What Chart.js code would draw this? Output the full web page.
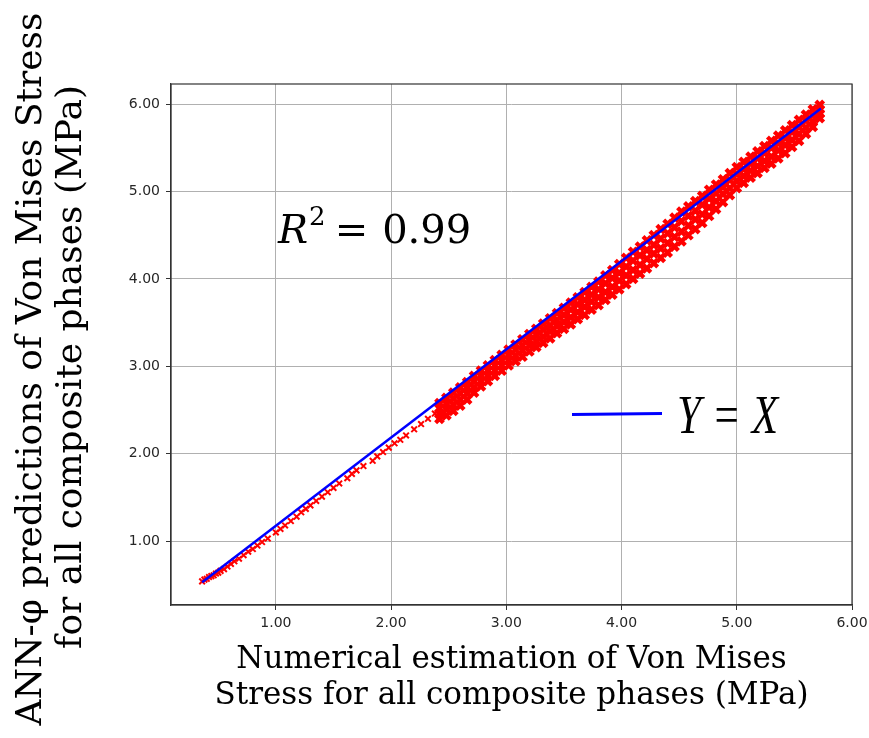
<!DOCTYPE html>
<html>
<head>
<meta charset="utf-8">
<script src="https://cdn.jsdelivr.net/npm/chart.js@4.4.1/dist/chart.umd.min.js"></script>
<style>
  html, body { margin: 0; padding: 0; background: #ffffff; }
  #wrap { width: 869px; height: 738px; position: relative; }
</style>
</head>
<body>
<div id="wrap"><canvas id="c" width="869" height="738"></canvas></div>
<script>
// ---------- data ----------
const xTickValues = [1, 2, 3, 4, 5, 6];
const yTickValues = [1, 2, 3, 4, 5, 6];

// Y = X reference line (end points as drawn)
const refLineX = [0.36, 5.73];
const refLineY = [0.53, 5.95];

// sparse low-stress predictions (x markers below the line)
const sparseX = [0.36,0.38,0.40,0.42,0.44,0.46,0.48,0.50,0.52,0.55,0.58,0.61,0.64,0.68,0.72,0.76,0.80,0.84,0.88,0.93,1.00,1.04,1.08,1.13,1.18,1.22,1.26,1.30,1.35,1.40,1.45,1.50,1.55,1.62,1.66,1.70,1.76,1.84,1.88,1.93,1.98,2.03,2.08,2.13,2.20,2.26,2.32,2.38];
const sparseY = [0.54,0.56,0.57,0.59,0.60,0.61,0.63,0.64,0.66,0.68,0.71,0.74,0.77,0.80,0.84,0.88,0.91,0.95,0.99,1.03,1.10,1.14,1.18,1.23,1.28,1.33,1.37,1.41,1.46,1.51,1.56,1.61,1.66,1.72,1.77,1.81,1.86,1.92,1.97,2.02,2.07,2.12,2.16,2.21,2.28,2.34,2.40,2.46];

// dense band of predictions (columns with four levels each)
const bandX    = [2.42,2.48,2.54,2.60,2.66,2.72,2.78,2.84,2.90,2.96,3.02,3.08,3.14,3.20,3.26,3.32,3.38,3.44,3.50,3.56,3.62,3.68,3.74,3.80,3.86,3.92,3.98,4.04,4.10,4.16,4.22,4.28,4.34,4.40,4.46,4.52,4.58,4.64,4.70,4.76,4.82,4.88,4.94,5.00,5.06,5.12,5.18,5.24,5.30,5.36,5.42,5.48,5.54,5.60,5.66,5.72];
const bandTop  = [2.58,2.64,2.70,2.76,2.82,2.89,2.95,3.01,3.07,3.13,3.19,3.25,3.31,3.37,3.43,3.49,3.55,3.61,3.67,3.73,3.79,3.85,3.91,3.97,4.04,4.10,4.17,4.24,4.31,4.37,4.44,4.50,4.57,4.63,4.70,4.77,4.83,4.89,4.95,5.02,5.08,5.14,5.21,5.28,5.34,5.40,5.46,5.52,5.58,5.64,5.70,5.76,5.82,5.88,5.94,5.99];
const bandUpper= [2.52,2.57,2.63,2.69,2.75,2.83,2.89,2.95,3.01,3.07,3.13,3.19,3.24,3.30,3.36,3.42,3.47,3.53,3.59,3.65,3.71,3.76,3.82,3.88,3.95,4.01,4.07,4.14,4.21,4.27,4.33,4.39,4.46,4.52,4.59,4.66,4.72,4.78,4.85,4.92,4.98,5.05,5.13,5.20,5.26,5.32,5.38,5.44,5.50,5.55,5.61,5.68,5.74,5.81,5.87,5.94];
const bandLower= [2.46,2.51,2.56,2.62,2.69,2.76,2.83,2.89,2.95,3.01,3.07,3.12,3.18,3.24,3.29,3.34,3.40,3.46,3.51,3.56,3.62,3.68,3.74,3.79,3.85,3.91,3.98,4.04,4.10,4.16,4.23,4.29,4.35,4.41,4.48,4.54,4.61,4.68,4.74,4.82,4.89,4.97,5.04,5.12,5.18,5.24,5.29,5.35,5.40,5.47,5.53,5.59,5.66,5.73,5.80,5.89];
const bandLow  = [2.40,2.44,2.49,2.55,2.62,2.70,2.77,2.83,2.89,2.95,3.01,3.06,3.11,3.17,3.22,3.27,3.32,3.38,3.43,3.48,3.54,3.59,3.65,3.70,3.76,3.82,3.88,3.94,4.00,4.06,4.12,4.18,4.24,4.30,4.37,4.43,4.50,4.57,4.64,4.72,4.80,4.88,4.96,5.04,5.10,5.16,5.21,5.27,5.32,5.38,5.44,5.51,5.58,5.66,5.74,5.84];

const xTitle = ['Numerical estimation of Von Mises', 'Stress for all composite phases (MPa)'];
const yTitle = ['ANN-\u03C6 predictions of Von Mises Stress', 'for all composite phases (MPa)'];
const r2Value = '0.99';
const legendLabel = 'Y = X';

// ---------- build datasets ----------
const pairs = (xs, ys) => xs.map((x, i) => ({ x: x, y: ys[i] }));
const bandPoints = [].concat(
  pairs(bandX, bandTop), pairs(bandX, bandUpper),
  pairs(bandX, bandLower), pairs(bandX, bandLow)
);

const RED = '#ff0000';
const BLUE = '#0000ff';

const annotations = {
  id: 'annotations',
  afterDraw(chart) {
    const ctx = chart.ctx;
    ctx.save();
    ctx.fillStyle = '#000';
    // Y axis title (two lines, rotated)
    ctx.font = '36px "DejaVu Serif"';
    ctx.textAlign = 'center';
    ctx.textBaseline = 'alphabetic';
    const yl = [[41, 369], [81, 367]];
    yTitle.forEach((t, i) => {
      ctx.save();
      ctx.translate(yl[i][0], yl[i][1]);
      ctx.rotate(-Math.PI / 2);
      ctx.fillText(t, 0, 0);
      ctx.restore();
    });
    // R^2 annotation
    ctx.textAlign = 'left';
    let x = 278;
    const base = 243;
    ctx.font = 'italic 40px "DejaVu Serif"';
    ctx.fillText('R', x, base);
    x += ctx.measureText('R').width + 1;
    ctx.font = '26px "DejaVu Serif"';
    ctx.fillText('2', x, base - 18);
    x += ctx.measureText('2').width + 9;
    ctx.font = '40px "DejaVu Serif"';
    ctx.fillText('=', x, base);
    x += ctx.measureText('=').width + 14;
    ctx.fillText(r2Value, x, base);
    // legend: line sample + italic label
    const ds = chart.data.datasets[0];
    ctx.strokeStyle = ds.borderColor;
    ctx.lineWidth = 3;
    ctx.beginPath();
    ctx.moveTo(572, 414.5);
    ctx.lineTo(662, 413.5);
    ctx.stroke();
    ctx.save();
    ctx.translate(677, 433);
    ctx.scale(0.8, 1);
    ctx.font = 'italic 54px "Liberation Serif"';
    ctx.fillText(legendLabel, 0, 0);
    ctx.restore();
    // frame around plot area
    const a = chart.chartArea;
    ctx.strokeStyle = '#333';
    ctx.lineWidth = 1.2;
    ctx.strokeRect(a.left, a.top, a.right - a.left, a.bottom - a.top);
    ctx.restore();
  }
};

new Chart(document.getElementById('c'), {
  type: 'scatter',
  data: {
    datasets: [
      {
        label: legendLabel,
        type: 'line',
        data: pairs(refLineX, refLineY),
        borderColor: BLUE,
        backgroundColor: BLUE,
        borderWidth: 2.5,
        pointRadius: 0,
        showLine: true,
        fill: false,
        order: 0
      },
      {
        label: 'ANN predictions (band)',
        data: bandPoints,
        pointStyle: 'crossRot',
        pointRadius: 5.5,
        borderColor: RED,
        backgroundColor: RED,
        borderWidth: 4.2,
        order: 1
      },
      {
        label: 'ANN predictions (low)',
        data: pairs(sparseX, sparseY),
        pointStyle: 'crossRot',
        pointRadius: 4,
        borderColor: RED,
        backgroundColor: RED,
        borderWidth: 2,
        order: 2
      }
    ]
  },
  options: {
    responsive: false,
    animation: false,
    devicePixelRatio: 1,
    layout: { padding: { left: 0, right: 17, top: 84, bottom: 0 } },
    plugins: { legend: { display: false }, tooltip: { enabled: false } },
    scales: {
      x: {
        type: 'linear',
        min: 0.09, max: 6.0,
        afterFit(s) { s.height = 133; s.paddingLeft = 0; s.paddingRight = 0; },
        afterBuildTicks(s) { s.ticks = xTickValues.map(v => ({ value: v })); },
        ticks: {
          includeBounds: false, stepSize: 1,
          font: { family: 'DejaVu Sans', size: 14 }, color: '#262626', padding: 5,
          callback: v => Number(v).toFixed(2), maxRotation: 0
        },
        grid: { color: '#b0b0b0', lineWidth: 1, drawTicks: true, tickLength: 5, tickColor: '#333' },
        border: { display: true, color: '#333', width: 1.2 },
        title: {
          display: true, text: xTitle, color: '#000',
          font: { family: 'DejaVu Serif', size: 31, lineHeight: 1.16 },
          padding: { top: 0, bottom: 24 }
        }
      },
      y: {
        type: 'linear',
        min: 0.27, max: 6.23,
        afterFit(s) { s.width = 171; s.paddingTop = 0; s.paddingBottom = 0; },
        afterBuildTicks(s) { s.ticks = yTickValues.map(v => ({ value: v })); },
        ticks: {
          includeBounds: false, stepSize: 1,
          font: { family: 'DejaVu Sans', size: 14 }, color: '#262626', padding: 6,
          callback: v => Number(v).toFixed(2)
        },
        grid: { color: '#b0b0b0', lineWidth: 1, drawTicks: true, tickLength: 5, tickColor: '#333' },
        border: { display: true, color: '#333', width: 1.2 }
      }
    }
  },
  plugins: [annotations]
});
</script>
</body>
</html>
